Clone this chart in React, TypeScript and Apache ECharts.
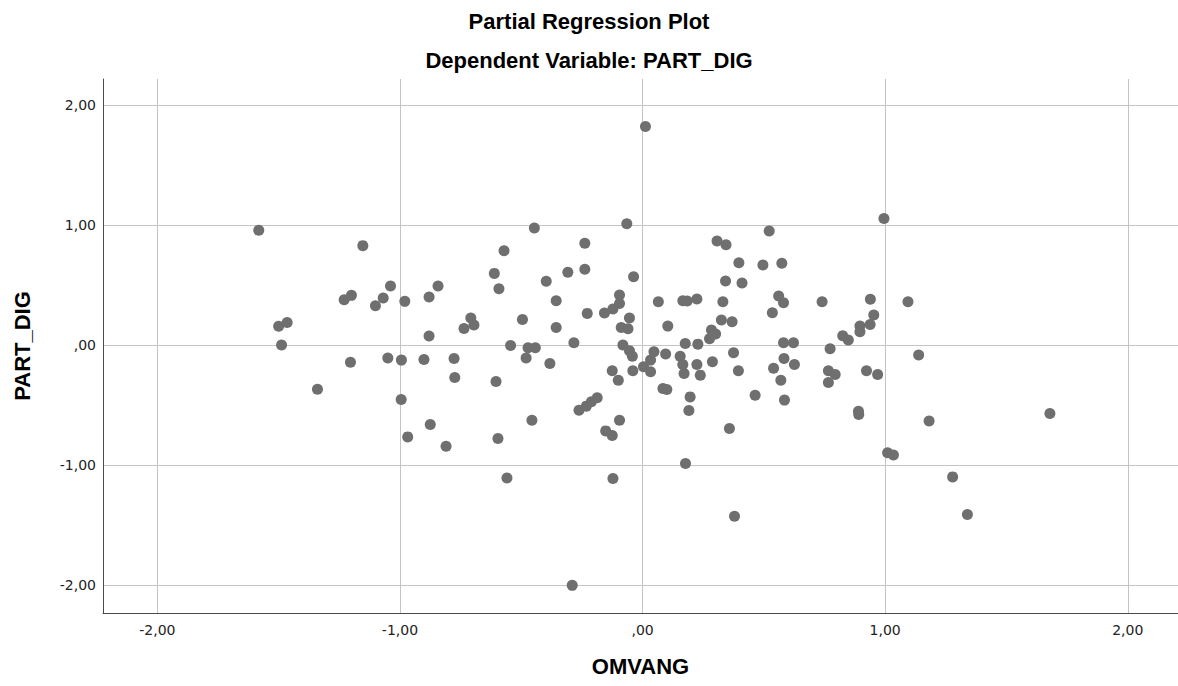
import React, { useEffect, useRef } from "react";
import * as echarts from "echarts";

const TITLE = "Partial Regression Plot";
const SUBTITLE = "Dependent Variable: PART_DIG";
const X_NAME = "OMVANG";
const Y_NAME = "PART_DIG";
const X_TICKS = [-2, -1, 0, 1, 2];
const Y_TICKS = [-2, -1, 0, 1, 2];

// OMVANG (x) residuals
const omvang = [
  -1.582, -1.5, -1.465, -1.488, -1.34, -1.23, -1.2, -1.204, -1.153, -1.101,
  -1.069, -1.039, -1.05, -0.994, -0.98, -0.995, -0.968, -0.901, -0.88, -0.88,
  -0.875, -0.843, -0.81, -0.777, -0.774, -0.736, -0.708, -0.695, -0.611, -0.604,
  -0.592, -0.596, -0.571, -0.544, -0.559, -0.495, -0.48, -0.472, -0.446, -0.442,
  -0.456, -0.397, -0.382, -0.356, -0.356, -0.308, -0.283, -0.29, -0.262, -0.238,
  -0.238, -0.232, -0.228, -0.211, -0.187, -0.157, -0.152, -0.125, -0.122, -0.125,
  -0.122, -0.1, -0.095, -0.095, -0.095, -0.088, -0.081, -0.065, -0.06, -0.054,
  -0.054, -0.042, -0.04, -0.037, 0.004, 0.012, 0.033, 0.033, 0.047, 0.065,
  0.084, 0.1, 0.095, 0.104, 0.155, 0.166, 0.166, 0.171, 0.176, 0.177,
  0.184, 0.191, 0.196, 0.224, 0.224, 0.228, 0.238, 0.276, 0.284, 0.288,
  0.301, 0.307, 0.325, 0.331, 0.342, 0.344, 0.358, 0.369, 0.375, 0.379,
  0.395, 0.397, 0.41, 0.464, 0.496, 0.522, 0.535, 0.54, 0.561, 0.57,
  0.574, 0.581, 0.581, 0.583, 0.585, 0.622, 0.626, 0.74, 0.766, 0.766,
  0.773, 0.794, 0.825, 0.848, 0.89, 0.891, 0.896, 0.896, 0.923, 0.938,
  0.939, 0.953, 0.969, 0.995, 1.01, 1.034, 1.094, 1.138, 1.181, 1.278,
  1.339, 1.679,
];

// PART_DIG (y) residuals
const partDig = [
  0.956, 0.156, 0.189, 0.0, -0.367, 0.378, 0.414, -0.142, 0.828, 0.328,
  0.392, 0.492, -0.108, -0.125, 0.364, -0.453, -0.764, -0.119, 0.4, 0.075,
  -0.661, 0.492, -0.842, -0.111, -0.269, 0.139, 0.225, 0.167, 0.597, -0.303,
  0.469, -0.778, 0.786, -0.003, -1.106, 0.214, -0.108, -0.022, 0.975, -0.022,
  -0.625, 0.531, -0.153, 0.369, 0.147, 0.606, 0.019, -2.0, -0.542, 0.848,
  0.631, -0.508, 0.264, -0.472, -0.439, 0.267, -0.714, -0.753, 0.3, -0.214,
  -1.111, -0.292, 0.417, 0.347, -0.625, 0.147, 0.0, 1.01, 0.136, 0.225,
  -0.047, -0.092, -0.214, 0.569, -0.181, 1.82, -0.125, -0.222, -0.056, 0.361,
  -0.361, -0.369, -0.075, 0.158, -0.092, 0.369, -0.161, -0.236, 0.014, -0.986,
  0.367, -0.544, -0.431, 0.383, -0.161, 0.008, -0.25, 0.053, 0.125, -0.139,
  0.092, 0.867, 0.208, 0.361, 0.533, 0.836, -0.694, 0.194, -0.064, -1.425,
  -0.214, 0.686, 0.517, -0.417, 0.667, 0.95, 0.269, -0.192, 0.408, -0.292,
  0.681, 0.353, 0.019, -0.111, -0.458, 0.019, -0.161, 0.361, -0.214, -0.311,
  -0.03, -0.244, 0.078, 0.042, -0.55, -0.578, 0.158, 0.111, -0.214, 0.172,
  0.381, 0.25, -0.244, 1.053, -0.897, -0.914, 0.361, -0.083, -0.631, -1.097,
  -1.411, -0.569,
];

const TITLE_FONT = "'Liberation Sans', Arial, sans-serif";
const TICK_FONT = "'DejaVu Sans', sans-serif";

function fmtTick(v: number, ticks: number[]): string {
  const hit = ticks.find((t) => Math.abs(t - v) < 1e-6);
  if (hit === undefined) return "";
  const a = Math.abs(hit).toFixed(2).replace(".", ",");
  const body = Math.abs(hit) < 1 ? a.replace(/^0/, "") : a;
  return (hit < 0 ? "-" : "") + body;
}

export default function App() {
  const ref = useRef<HTMLDivElement>(null);
  useEffect(() => {
    if (!ref.current) return;
    const chart = echarts.init(ref.current, undefined, { renderer: "svg" });
    const data = omvang.map((x, i) => [x, partDig[i]]);
    const axisLine = { show: true, onZero: false, lineStyle: { color: "#4a4a4a", width: 1 } };
    const splitLine = {
      show: true,
      showMinLine: false,
      showMaxLine: false,
      lineStyle: { color: "#c4c4c4", width: 1 },
    };
    const nameStyle = { fontFamily: TITLE_FONT, fontSize: 22, fontWeight: "bold", color: "#000" };
    chart.setOption({
      animation: false,
      backgroundColor: "#ffffff",
      title: [
        { text: TITLE, left: "center", top: 5, textStyle: nameStyle },
        { text: SUBTITLE, left: "center", top: 44, textStyle: nameStyle },
      ],
      grid: { left: 103, right: 0, top: 79, bottom: 73, containLabel: false },
      xAxis: {
        type: "value",
        min: -2.224,
        max: 2.207,
        minInterval: 1,
        maxInterval: 1,
        name: X_NAME,
        nameLocation: "middle",
        nameGap: 42,
        nameTextStyle: nameStyle,
        axisLine,
        axisTick: { show: false },
        splitLine,
        axisLabel: {
          showMinLabel: false,
          showMaxLabel: false,
          margin: 10,
          fontFamily: TICK_FONT,
          fontSize: 14,
          color: "#222",
          formatter: (v: number) => fmtTick(v, X_TICKS),
        },
      },
      yAxis: {
        type: "value",
        min: -2.23,
        max: 2.215,
        minInterval: 1,
        maxInterval: 1,
        name: Y_NAME,
        nameLocation: "middle",
        nameGap: 70,
        nameTextStyle: nameStyle,
        axisLine,
        axisTick: { show: false },
        splitLine,
        axisLabel: {
          showMinLabel: false,
          showMaxLabel: false,
          margin: 7,
          fontFamily: TICK_FONT,
          fontSize: 14,
          color: "#222",
          formatter: (v: number) => fmtTick(v, Y_TICKS),
        },
      },
      series: [
        {
          type: "scatter",
          data,
          symbol: "circle",
          symbolSize: 11,
          itemStyle: { color: "#6f6f6f", opacity: 1 },
          emphasis: { disabled: true },
        },
      ],
    });
    return () => chart.dispose();
  }, []);
  return (
    <div
      ref={ref}
      style={{ position: "fixed", left: 0, top: 0, width: 1178, height: 686, background: "#fff" }}
    />
  );
}
